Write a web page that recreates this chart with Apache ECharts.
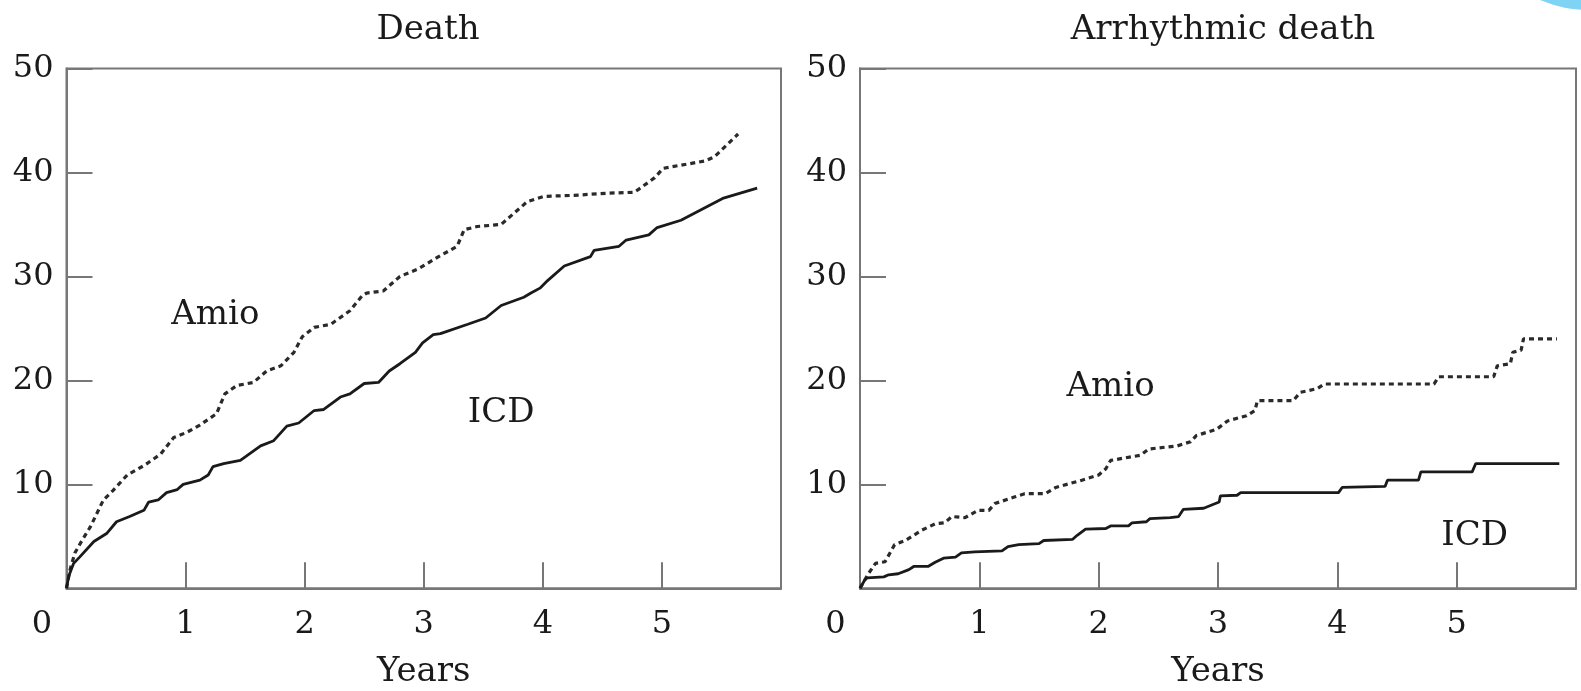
<!DOCTYPE html>
<html>
<head>
<meta charset="utf-8">
<script src="https://cdn.jsdelivr.net/npm/echarts@6/dist/echarts.min.js"></script>
<style>
  html, body { margin: 0; padding: 0; background: #fff; }
  #chart { width: 1581px; height: 691px; }
</style>
</head>
<body>
<div id="chart"></div>
<script>
// Death panel: years and cumulative %
const deathIcdX = [0, 0.02, 0.06, 0.11, 0.23, 0.34, 0.42, 0.53, 0.65, 0.69, 0.77, 0.84, 0.93, 0.98, 1.12, 1.19, 1.23, 1.32, 1.46, 1.63, 1.74, 1.85, 1.95, 2.08, 2.16, 2.30, 2.38, 2.50, 2.62, 2.71, 2.80, 2.93, 2.99, 3.08, 3.14, 3.37, 3.52, 3.65, 3.84, 3.90, 3.98, 4.04, 4.18, 4.40, 4.43, 4.64, 4.70, 4.89, 4.96, 5.16, 5.51, 5.80]
const deathIcdY = [0, 1.2, 2.4, 3.0, 4.5, 5.3, 6.4, 6.9, 7.5, 8.3, 8.5, 9.2, 9.5, 10.0, 10.4, 10.9, 11.7, 12.0, 12.3, 13.7, 14.2, 15.6, 15.9, 17.1, 17.2, 18.4, 18.7, 19.7, 19.8, 20.9, 21.6, 22.7, 23.6, 24.4, 24.5, 25.4, 26.0, 27.2, 28.0, 28.4, 28.9, 29.6, 31.0, 31.9, 32.5, 32.9, 33.5, 34.0, 34.7, 35.4, 37.5, 38.5]
const deathAmioX = [0, 0.03, 0.07, 0.13, 0.20, 0.31, 0.39, 0.51, 0.65, 0.79, 0.90, 1.01, 1.12, 1.26, 1.33, 1.43, 1.57, 1.68, 1.80, 1.91, 1.98, 2.08, 2.22, 2.38, 2.48, 2.52, 2.66, 2.80, 2.95, 3.11, 3.28, 3.34, 3.45, 3.65, 3.73, 3.87, 4.01, 4.26, 4.54, 4.77, 4.82, 4.94, 5.01, 5.16, 5.36, 5.44, 5.55, 5.64]
const deathAmioY = [0, 1.8, 3.4, 4.6, 5.9, 8.5, 9.4, 10.9, 11.8, 12.9, 14.5, 15.0, 15.7, 16.8, 18.7, 19.5, 19.8, 20.9, 21.4, 22.7, 24.2, 25.1, 25.4, 26.7, 28.1, 28.4, 28.6, 30.0, 30.7, 31.8, 32.9, 34.5, 34.8, 35.0, 35.8, 37.2, 37.7, 37.8, 38.0, 38.1, 38.5, 39.5, 40.4, 40.7, 41.1, 41.5, 42.7, 43.7]

// Arrhythmic death panel
const arrIcdX = [0, 0.04, 0.06, 0.20, 0.24, 0.32, 0.41, 0.45, 0.57, 0.63, 0.70, 0.80, 0.85, 0.96, 1.19, 1.24, 1.33, 1.50, 1.54, 1.78, 1.82, 1.89, 2.06, 2.10, 2.25, 2.28, 2.40, 2.43, 2.60, 2.67, 2.71, 2.88, 3.01, 3.02, 3.16, 3.19, 4.01, 4.04, 4.40, 4.42, 4.68, 4.70, 5.13, 5.16, 5.86]
const arrIcdY = [0, 0.8, 1.0, 1.1, 1.3, 1.4, 1.8, 2.1, 2.1, 2.5, 2.9, 3.0, 3.4, 3.5, 3.6, 4.0, 4.2, 4.3, 4.6, 4.7, 5.1, 5.7, 5.75, 6.0, 6.0, 6.3, 6.4, 6.7, 6.8, 6.9, 7.6, 7.7, 8.3, 8.9, 8.95, 9.2, 9.2, 9.7, 9.8, 10.4, 10.4, 11.2, 11.2, 12.0, 12.0]
const arrAmioX = [0, 0.07, 0.13, 0.21, 0.29, 0.38, 0.52, 0.63, 0.71, 0.77, 0.88, 0.99, 1.08, 1.13, 1.30, 1.38, 1.55, 1.64, 1.86, 2.00, 2.06, 2.10, 2.35, 2.42, 2.66, 2.77, 2.82, 2.99, 3.08, 3.24, 3.31, 3.33, 3.63, 3.69, 3.83, 3.89, 4.81, 4.85, 5.31, 5.34, 5.45, 5.47, 5.54, 5.56, 5.84]
const arrAmioY = [0, 1.4, 2.4, 2.55, 4.2, 4.6, 5.6, 6.2, 6.3, 6.9, 6.8, 7.5, 7.5, 8.15, 8.8, 9.1, 9.1, 9.7, 10.4, 10.9, 11.5, 12.3, 12.8, 13.4, 13.7, 14.1, 14.7, 15.3, 16.1, 16.6, 17.1, 18.05, 18.05, 18.85, 19.2, 19.65, 19.65, 20.35, 20.35, 21.4, 21.6, 22.7, 22.9, 24.0, 24.0]

const panelTitles = ['Death', 'Arrhythmic death']
const xName = 'Years'
// curve labels: [x, y, text]
const deathLabels = [[1.25, 26.3, 'Amio'], [3.65, 16.8, 'ICD']]
const arrLabels = [[2.1, 19.3, 'Amio'], [5.15, 5.0, 'ICD']]

const FONT = 'DejaVu Serif'
const INK = '#1a1a1a'
const FRAME = '#777'

const zip = (xs, ys) => xs.map((x, i) => [x, ys[i]])

const chart = echarts.init(document.getElementById('chart'))

const grids = [
  { left: 66.5, top: 68.5, width: 714.5, bottom: 102.7 },
  { left: 860, top: 68.5, right: 5, bottom: 102.7 }
]

const xAxes = grids.map((g, i) => ({
  type: 'value',
  gridIndex: i,
  min: 0,
  max: 6,
  interval: 1,
  name: xName,
  nameLocation: 'middle',
  nameGap: 67,
  nameTextStyle: { fontFamily: FONT, fontSize: 34, color: INK },
  axisLine: { lineStyle: { color: FRAME, width: 2 } },
  axisTick: { inside: true, length: 26, lineStyle: { color: FRAME, width: 2 } },
  splitLine: { show: false },
  axisLabel: {
    margin: 20,
    fontFamily: FONT,
    fontSize: 32,
    color: INK,
    formatter: v => v === 6 ? '' : (v === 0 ? '{z|0}' : String(v)),
    rich: { z: { fontFamily: FONT, fontSize: 32, color: INK, padding: [0, 49, 0, 0] } }
  }
}))

const yAxes = grids.map((g, i) => ({
  type: 'value',
  gridIndex: i,
  min: 0,
  max: 50,
  interval: 10,
  axisLine: { show: true, lineStyle: { color: FRAME, width: 2 } },
  axisTick: { inside: true, length: 26, lineStyle: { color: FRAME, width: 2 } },
  splitLine: { show: false },
  axisLabel: {
    margin: 13,
    fontFamily: FONT,
    fontSize: 32,
    color: INK,
    formatter: v => v === 0 ? '' : String(v)
  }
}))

const solid = (i, data) => ({
  type: 'line', xAxisIndex: i, yAxisIndex: i, data,
  showSymbol: false, symbol: 'none', silent: true,
  lineStyle: { color: '#1a1a1a', width: 2.8 }
})
const dotted = (i, data) => ({
  type: 'line', xAxisIndex: i, yAxisIndex: i, data,
  showSymbol: false, symbol: 'none', silent: true,
  lineStyle: { color: '#2a2a2a', width: 3.2, type: [5, 4] }
})
const labels = (i, list) => ({
  type: 'scatter', xAxisIndex: i, yAxisIndex: i,
  data: list.map(d => ({ value: [d[0], d[1]], name: d[2] })),
  symbolSize: 0, silent: true,
  itemStyle: { opacity: 1 },
  label: {
    show: true, position: 'inside', formatter: p => p.name,
    fontFamily: FONT, fontSize: 34, color: INK, opacity: 1
  }
})

chart.setOption({
  animation: false,
  backgroundColor: '#fff',
  title: panelTitles.map((t, i) => ({
    text: t,
    left: i === 0 ? 423 : 1218,
    top: 8,
    textAlign: 'center',
    textStyle: { fontFamily: FONT, fontSize: 34, fontWeight: 'normal', color: INK }
  })),
  grid: grids.map(g => Object.assign({
    show: true, borderColor: FRAME, borderWidth: 2, outerBoundsMode: 'none', containLabel: false
  }, g)),
  xAxis: xAxes,
  yAxis: yAxes,
  series: [
    dotted(0, zip(deathAmioX, deathAmioY)),
    solid(0, zip(deathIcdX, deathIcdY)),
    dotted(1, zip(arrAmioX, arrAmioY)),
    solid(1, zip(arrIcdX, arrIcdY)),
    labels(0, deathLabels),
    labels(1, arrLabels)
  ],
  graphic: [{
    type: 'circle',
    shape: { cx: 1588, cy: -110, r: 120 },
    style: { fill: '#7fd4f6' },
    silent: true
  }]
})
</script>
</body>
</html>
